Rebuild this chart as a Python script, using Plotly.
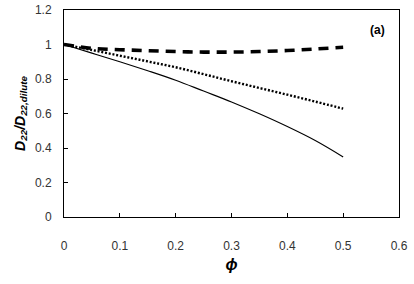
import plotly.graph_objects as go

phi = [0.0, 0.05, 0.1, 0.15, 0.2, 0.25, 0.3, 0.35, 0.4, 0.45, 0.5]
solid_vals = [1.0, 0.95, 0.90, 0.848, 0.793, 0.73, 0.667, 0.598, 0.524, 0.443, 0.348]
dotted_vals = [1.0, 0.968, 0.935, 0.902, 0.868, 0.828, 0.787, 0.748, 0.709, 0.669, 0.628]
dashed_vals = [1.0, 0.978, 0.970, 0.964, 0.959, 0.956, 0.956, 0.959, 0.965, 0.974, 0.984]

x_ticks = [0, 0.1, 0.2, 0.3, 0.4, 0.5, 0.6]
x_labels = ["0", "0.1", "0.2", "0.3", "0.4", "0.5", "0.6"]
y_ticks = [0, 0.2, 0.4, 0.6, 0.8, 1.0, 1.2]
y_labels = ["0", "0.2", "0.4", "0.6", "0.8", "1", "1.2"]

fig = go.Figure()
fig.add_trace(go.Scatter(x=phi, y=solid_vals, mode="lines",
                         line=dict(color="black", width=1.1), line_shape="spline"))
fig.add_trace(go.Scatter(x=phi, y=dotted_vals, mode="lines",
                         line=dict(color="black", width=2.4, dash="2px,1.8px"), line_shape="spline"))
fig.add_trace(go.Scatter(x=phi, y=dashed_vals, mode="lines",
                         line=dict(color="black", width=3.6, dash="10px,7px"), line_shape="spline"))

font_family = "Liberation Sans, Arial, sans-serif"
fig.update_layout(
    width=414, height=284,
    margin=dict(l=64, r=15, t=10, b=67),
    paper_bgcolor="white", plot_bgcolor="white",
    showlegend=False,
    font=dict(family=font_family, size=12, color="#333"),
    annotations=[dict(text="<b>(a)</b>", x=0.578, y=1.085, xref="x", yref="y",
                      showarrow=False, font=dict(size=12, color="black"),
                      xanchor="right")],
)
fig.update_xaxes(range=[0, 0.6], tickvals=x_ticks, ticktext=x_labels,
                 ticks="inside", ticklen=4, tickcolor="black", tickwidth=1,
                 showline=True, linecolor="black", linewidth=1, mirror=True,
                 showgrid=False, zeroline=False, ticklabelstandoff=18,
                 automargin=False, ticklabeloverflow="allow",
                 title=dict(text="<b><i>ϕ</i></b>", font=dict(size=16, color="black"), standoff=6))
fig.update_yaxes(range=[0, 1.2], tickvals=y_ticks, ticktext=y_labels,
                 ticks="inside", ticklen=4, tickcolor="black", tickwidth=1,
                 showline=True, linecolor="black", linewidth=1, mirror=True,
                 showgrid=False, zeroline=False, ticklabelstandoff=9,
                 automargin=False, ticklabeloverflow="allow",
                 title=dict(text="<b><i>D<sub>22</sub>/D<sub>22,dilute</sub></i></b>",
                            font=dict(size=14, color="black"), standoff=6))

fig.write_html("out.html", config={"displayModeBar": False},
               post_script="document.body.style.margin='0';")
